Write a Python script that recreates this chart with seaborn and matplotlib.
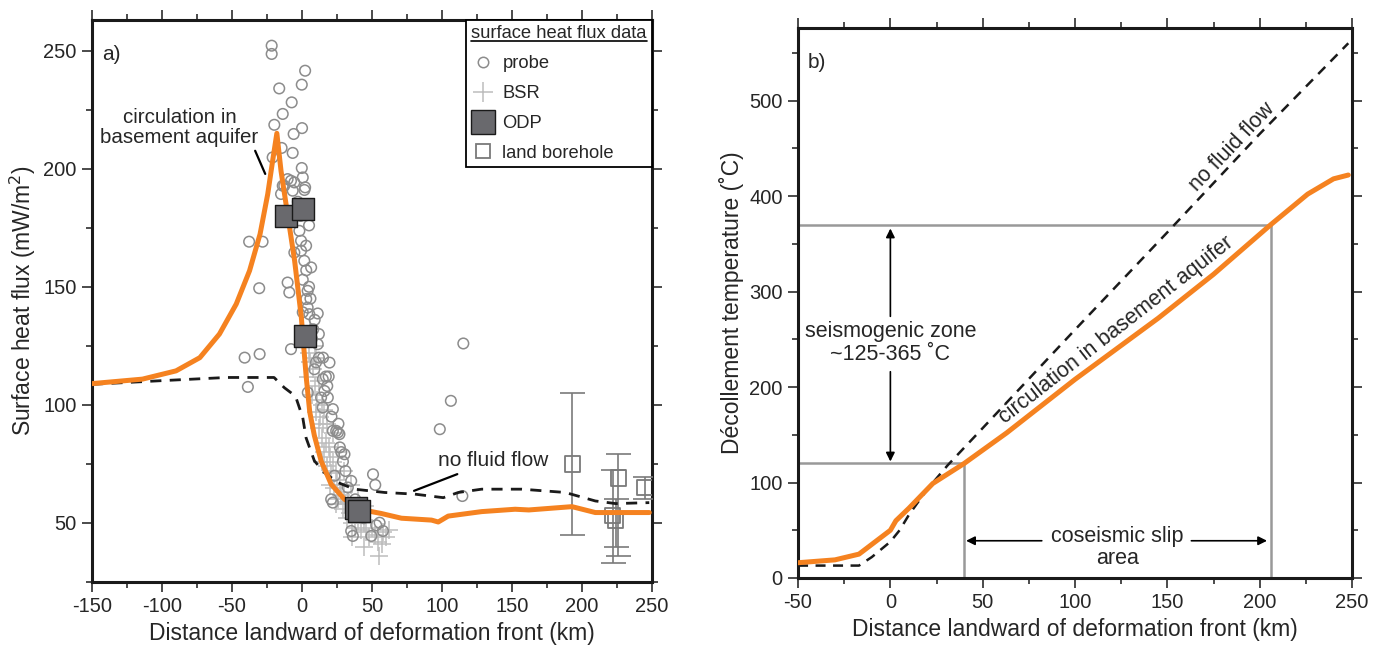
import numpy as np
import pandas as pd
import matplotlib
matplotlib.use("Agg")
import matplotlib.pyplot as plt
from matplotlib.lines import Line2D
from matplotlib.ticker import MultipleLocator
import seaborn as sns

# ---------------- data: panel a (surface heat flux) ----------------
model_x = [-150, -114, -90, -73, -59, -47, -37.5, -30, -24.5, -21, -18,
           -15, -10, -5.3, -0.5, 3, 5.5, 8.8, 13.6, 20.8, 30.3, 47, 56.6, 71,
           92.5, 97.3, 104.4, 128.3, 152.2, 162, 192.8, 209.5, 248]
aquifer_flux = [109, 110.9, 114.4, 120, 130, 142.7, 156.8, 172.3, 189.3, 203.4, 215,
                199, 179.4, 161, 137, 111.6, 97, 87, 76.3, 66.4, 60, 55.1, 54, 52,
                51.2, 50.4, 52.9, 54.8, 55.8, 55.5, 56.9, 54.4, 54.4]

noflow_x = [-150, -102, -54, -20, -12.7, -6.5, -4.3, 0.5, 2.9, 8.8, 16, 25.6,
            37.5, 59, 80.5, 100.9, 111.6, 128.3, 147.5, 157, 188, 209.5, 224, 248]
noflow_flux = [108.7, 110.2, 111.6, 111.6, 107.3, 104.5, 103, 94.6, 86, 76.3, 71.3, 67.1,
               64.3, 62.9, 62.2, 60.7, 62.9, 64.3, 64.3, 64.3, 62.9, 59.3, 58.2, 58.6]

probe_x = [-21.7, -21.7, 2.2, -0.2, -16.3, -7.4, -13.8, -19.8, 0, -6, -14.6, -6.7, -21,
           -0.2, 0.5, -10.3, -5.5, 2.2, -13.8, -7.9, -12.7, -6.7, 1.7, -15, -3, 3, -1,
           -1.9, -0.7, 2.9, -0.7, -5.5, 1.6, 6.5, -37.8, -28.2, -30.6, -10.3, -9.1, 0.5,
           4, 3, 11.2, 0.5, 4, -41, -30.3, -38.7, 5.2, -7.9, 11.2, 19.6, 8.8, 14.8, 16,
           13.6, 18.4, 22, 14.8, 22, 25.6, 4.1, 24.4, 26.7, 30.3, 29.2, 23.2, 35.1, 32.7,
           20.8, 22, 35.1, 36.3, 49.5, 55.4, 57.8, 50.7, 52.3, 115.2, 106.3, 98.4, 114.5,
           5, 8, 12, 17, 28, 38, 44, 53, 6, 9, 7, 12, 10, 15, 18, 19, 21, 26, 27, 31, 3, 5]
probe_y = [252.1, 248.6, 241.5, 235.6, 234, 228.1, 223.2, 218.6, 217.2, 214.7, 208.8, 206.7,
           204.8, 200.3, 196.3, 195.6, 194.2, 192.1, 192.8, 194.9, 192.8, 190.7, 191, 189.3,
           186, 184, 180, 173.7, 169.5, 167.4, 165.3, 164.5, 161, 158.2, 169.1, 169.1, 149.4,
           151.8, 147.6, 153, 148.3, 144.8, 138.7, 139.2, 141.2, 120, 121.5, 107.6, 138.4,
           123.6, 125.7, 117.9, 115.1, 110.9, 105.9, 103.1, 103.1, 98.2, 98.9, 89, 88.3,
           105.2, 89, 87.6, 79.1, 76, 70, 67.8, 65, 60, 58.6, 46.6, 44.5, 44.5, 50.1, 46.6,
           70.6, 66.1, 126, 101.7, 89.7, 61.4, 176, 132, 120, 112, 80, 60, 52, 49,
           145, 136, 128, 130, 118, 120, 108, 112, 95, 92, 82, 72, 157, 150]

bsr_x = [3, 5, 6, 4, 8, 9, 7, 11, 10, 13, 12, 15, 14, 17, 16, 19, 20, 18, 22, 21, 24, 25,
         23, 27, 28, 26, 30, 31, 29, 33, 34, 32, 36, 38, 40, 42, 44, 46, 48, 50, 52, 54,
         55, 57, 58, 60, 62, 9, 12, 16, 22, 26, 30, 35, 40, 45, 14, 20, 24, 36, 44, 6, 10,
         14, 18]
bsr_y = [128, 122, 118, 112, 115, 108, 104, 102, 97, 95, 90, 92, 86, 84, 80, 82, 78, 74,
         76, 71, 72, 68, 65, 66, 62, 60, 63, 58, 56, 59, 54, 52, 50, 48, 51, 47, 50, 46, 44,
         48, 45, 42, 36, 41, 46, 44, 47, 125, 110, 98, 88, 80, 72, 66, 60, 57, 76, 66, 58,
         44, 40, 132, 120, 100, 92]

odp_x = [-11.5, 1, 2, 38.5, 41]
odp_y = [180, 183, 129, 56.5, 55]

bore_x = [193, 226, 222, 224, 245]
bore_y = [75, 69, 53, 51, 65]
bore_lo = [45, 36, 33, 40, 60]
bore_hi = [105, 79, 72.5, 60, 69.5]

# ---------------- data: panel b (decollement temperature) ----------------
tb_aq_x = [-50, -30, -17, 0, 3, 10, 23, 40, 63, 100, 145, 175, 206, 226, 240, 248]
tb_aq_y = [16, 19, 25, 50, 60, 73, 99, 120, 152, 208, 272, 318, 370, 402, 418, 422]
tb_nf_x = [-50, -17, -10, 0, 5, 10, 20, 31, 50, 100, 150, 200, 248]
tb_nf_y = [13, 13, 22, 38, 50, 66, 93, 118, 157, 260, 362, 465, 560]

seis_top, seis_bot = 370, 120
slip_left, slip_right = 40, 206

orange = "#f58220"
sns.set_style("ticks")
plt.rcParams["font.family"] = ["Liberation Sans", "DejaVu Sans"]
plt.rcParams["axes.unicode_minus"] = False

fig = plt.figure(figsize=(13.8, 6.52), dpi=100)
ax1 = fig.add_axes([0.0667, 0.1074, 0.4058, 0.862])
ax2 = fig.add_axes([0.5783, 0.1135, 0.4014, 0.8436])

# ---- panel a ----
sns.scatterplot(x=bsr_x, y=bsr_y, marker="+", s=150, color="#bdbdbd", linewidth=1.1, ax=ax1, zorder=2)
sns.scatterplot(x=probe_x, y=probe_y, marker="o", s=58, facecolors="none", edgecolors="#8c8c8c",
                linewidth=1.1, ax=ax1, zorder=3)
ax1.errorbar(bore_x, bore_y, yerr=[np.subtract(bore_y, bore_lo), np.subtract(bore_hi, bore_y)],
             fmt="none", ecolor="#7a7a7a", elinewidth=1.2, capsize=9, capthick=1.2, zorder=3)
sns.scatterplot(x=bore_x, y=bore_y, marker="s", s=120, facecolors="none", edgecolors="#7a7a7a",
                linewidth=1.3, ax=ax1, zorder=4)
sns.lineplot(x=noflow_x, y=noflow_flux, color="#1a1a1a", linewidth=2, linestyle=(0, (4, 3)),
             estimator=None, ax=ax1, zorder=5)
sns.lineplot(x=model_x, y=aquifer_flux, color=orange, linewidth=3.6, estimator=None, ax=ax1, zorder=6)
sns.scatterplot(x=odp_x, y=odp_y, marker="s", s=260, color="#69696d", edgecolor="#1a1a1a",
                linewidth=1, ax=ax1, zorder=7)

ax1.set_xlim(-150, 250)
ax1.set_ylim(25, 263)
ax1.xaxis.set_major_locator(MultipleLocator(50))
ax1.xaxis.set_minor_locator(MultipleLocator(25))
ax1.yaxis.set_major_locator(MultipleLocator(50))
ax1.yaxis.set_minor_locator(MultipleLocator(25))
ax1.set_xlabel("Distance landward of deformation front (km)", fontsize=16.5)
ax1.set_ylabel("Surface heat flux (mW/m$^2$)", fontsize=16.5)
ax1.text(0.018, 0.955, "a)", transform=ax1.transAxes, fontsize=15, va="top")
ax1.text(-87.5, 217.5, "circulation in\nbasement aquifer", ha="center", va="center",
         fontsize=14.8, linespacing=1.1)
ax1.plot([-33.5, -26.3], [207.6, 197.8], color="black", lw=1.6, zorder=5)
ax1.annotate("no fluid flow", xy=(80, 63.6), xytext=(97, 76.5),
             ha="left", va="center", fontsize=15,
             arrowprops=dict(arrowstyle="-", color="black", lw=1.6, shrinkA=2, shrinkB=0))

handles = [
    Line2D([], [], marker="o", ls="none", ms=7.5, mfc="none", mec="#8c8c8c", mew=1.1),
    Line2D([], [], marker="+", ls="none", ms=15, mec="#bdbdbd", mew=1.1),
    Line2D([], [], marker="s", ls="none", ms=17, mfc="#69696d", mec="#1a1a1a", mew=1),
    Line2D([], [], marker="s", ls="none", ms=10, mfc="none", mec="#7a7a7a", mew=1.3),
]
leg = ax1.legend(handles, ["probe", "BSR", "ODP", "land borehole"], title="surface heat flux data",
                 loc="upper right", borderaxespad=0, fontsize=13.2, title_fontsize=13.2,
                 frameon=True, fancybox=False, edgecolor="black", handletextpad=0.45,
                 labelspacing=0.7, borderpad=0.3, handlelength=1.25, alignment="left")
leg.get_frame().set_linewidth(1.3)
leg.get_frame().set_alpha(1)

# ---- panel b ----
ax2.plot([-50, slip_left], [seis_bot, seis_bot], color="#999999", lw=1.8, zorder=2)
ax2.plot([-50, slip_right], [seis_top, seis_top], color="#999999", lw=1.8, zorder=2)
ax2.plot([slip_left, slip_left], [0, seis_bot], color="#999999", lw=1.8, zorder=2)
ax2.plot([slip_right, slip_right], [0, seis_top], color="#999999", lw=1.8, zorder=2)
sns.lineplot(x=tb_nf_x, y=tb_nf_y, color="#1a1a1a", linewidth=1.8, linestyle=(0, (4, 3)),
             estimator=None, ax=ax2, zorder=3)
sns.lineplot(x=tb_aq_x, y=tb_aq_y, color=orange, linewidth=3.6, estimator=None, ax=ax2, zorder=4)

arr = dict(arrowstyle="-|>", color="black", lw=1.2, mutation_scale=13, shrinkA=0, shrinkB=0)
ax2.annotate("", xy=(0, 366), xytext=(0, 274), arrowprops=arr)
ax2.annotate("", xy=(0, 122), xytext=(0, 216), arrowprops=arr)
ax2.text(0, 246, "seismogenic zone\n~125-365 ˚C", ha="center", va="center", fontsize=15.5,
         linespacing=1.1)
ax2.annotate("", xy=(41, 39), xytext=(82, 39), arrowprops=arr)
ax2.annotate("", xy=(204, 39), xytext=(163, 39), arrowprops=arr)
ax2.text(123, 32, "coseismic slip\narea", ha="center", va="center", fontsize=15.5, linespacing=1.1)
ax2.text(189, 444, "no fluid flow", rotation=46.5, rotation_mode="anchor", ha="center",
         va="bottom", fontsize=15.5)
ax2.text(126, 251, "circulation in basement aquifer", rotation=38, rotation_mode="anchor",
         ha="center", va="bottom", fontsize=15.5)
ax2.text(0.018, 0.955, "b)", transform=ax2.transAxes, fontsize=15, va="top")

ax2.set_xlim(-50, 250)
ax2.set_ylim(0, 576)
ax2.xaxis.set_major_locator(MultipleLocator(50))
ax2.xaxis.set_minor_locator(MultipleLocator(25))
ax2.yaxis.set_major_locator(MultipleLocator(100))
ax2.yaxis.set_minor_locator(MultipleLocator(50))
ax2.set_xlabel("Distance landward of deformation front (km)", fontsize=16.5)
ax2.set_ylabel("Décollement temperature (˚C)", fontsize=16.5)

for ax in (ax1, ax2):
    for sp in ax.spines.values():
        sp.set_visible(True)
        sp.set_linewidth(2.2)
        sp.set_color("#1a1a1a")
    ax.tick_params(which="both", direction="out", top=True, right=True, labelsize=14.5,
                   width=1.1, color="#1a1a1a", pad=4)
    ax.tick_params(which="major", length=7)
    ax.tick_params(which="minor", length=4.5)
    ax.grid(False)

# underline the legend title
fig.canvas.draw()
r = fig.canvas.get_renderer()
tb = leg.get_title().get_window_extent(r)
(x0, y0), (x1, _) = fig.transFigure.inverted().transform([[tb.x0, tb.y0 + 1], [tb.x1, tb.y0]])
fig.add_artist(Line2D([x0, x1], [y0, y0], color="black", lw=1.2, transform=fig.transFigure))

fig.savefig("out.png", dpi=100)
